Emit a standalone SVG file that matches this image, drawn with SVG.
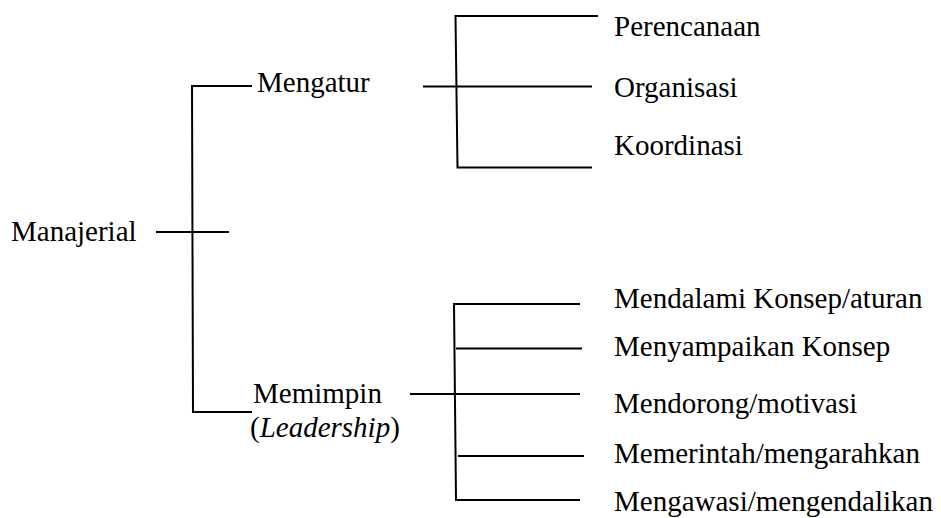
<svg xmlns="http://www.w3.org/2000/svg" width="941" height="518" viewBox="0 0 941 518">
  <style>
    text { font-family: 'Liberation Serif', 'DejaVu Serif', serif; font-size: 29px; fill: #000; }
    .ln { stroke: #000; stroke-width: 2; fill: none; stroke-linecap: butt; }
  </style>
  <rect width="941" height="518" fill="#fff"/>

  <!-- connectors -->
  <g id="connectors">
    <!-- root bracket -->
    <line class="ln" x1="156" y1="232" x2="229" y2="232"/>
    <polyline class="ln" points="252,86 192,86 193,412 252,412"/>
    <!-- Mengatur bracket -->
    <line class="ln" x1="423" y1="86.5" x2="592" y2="86.5"/>
    <polyline class="ln" points="598,16 455.5,16 457.5,167.5 592,167.5"/>
    <!-- Memimpin bracket -->
    <line class="ln" x1="410" y1="394" x2="580" y2="394"/>
    <polyline class="ln" points="580,304 454,304 456,500 580,500"/>
    <line class="ln" x1="456" y1="348.5" x2="582" y2="348.5"/>
    <line class="ln" x1="458" y1="456" x2="584" y2="456"/>
  </g>

  <g id="manajerial"><text x="11" y="241">Manajerial</text></g>

  <g id="mengatur"><text x="257" y="92">Mengatur</text></g>
  <g id="memimpin">
    <text x="253" y="403">Memimpin</text>
    <text x="250" y="437">(<tspan font-style="italic">Leadership</tspan>)</text>
  </g>

  <g id="perencanaan"><text x="614" y="36">Perencanaan</text></g>
  <g id="organisasi"><text x="614" y="97">Organisasi</text></g>
  <g id="koordinasi"><text x="614" y="155">Koordinasi</text></g>

  <g id="mendalami"><text x="614" y="308">Mendalami Konsep/aturan</text></g>
  <g id="menyampaikan"><text x="614" y="356">Menyampaikan Konsep</text></g>
  <g id="mendorong"><text x="614" y="413">Mendorong/motivasi</text></g>
  <g id="memerintah"><text x="614" y="463">Memerintah/mengarahkan</text></g>
  <g id="mengawasi"><text x="614" y="511">Mengawasi/mengendalikan</text></g>
</svg>
